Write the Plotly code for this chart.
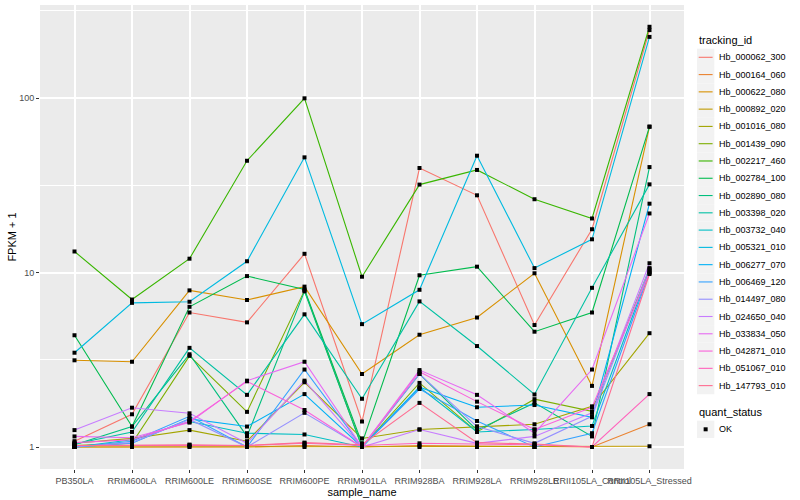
import plotly.graph_objects as go

samples = ["PB350LA", "RRIM600LA", "RRIM600LE", "RRIM600SE", "RRIM600PE", "RRIM901LA",
           "RRIM928BA", "RRIM928LA", "RRIM928LE", "RRII105LA_Control", "RRII105LA_Stressed"]

tracking_ids = ["Hb_000062_300", "Hb_000164_060", "Hb_000622_080", "Hb_000892_020", "Hb_001016_080",
                "Hb_001439_090", "Hb_002217_460", "Hb_002784_100", "Hb_002890_080", "Hb_003398_020",
                "Hb_003732_040", "Hb_005321_010", "Hb_006277_070", "Hb_006469_120", "Hb_014497_080",
                "Hb_024650_040", "Hb_033834_050", "Hb_042871_010", "Hb_051067_010", "Hb_147793_010"]

colors = ["#F8766D", "#EA8331", "#D89000", "#C09B00", "#A3A500", "#7CAE00", "#39B600", "#00BB4E",
          "#00BF7D", "#00C1A3", "#00BFC4", "#00BAE0", "#00B0F6", "#35A2FF", "#9590FF", "#C77CFF",
          "#E76BF3", "#FA62DB", "#FF62BC", "#FF6C91"]

quant_status = ["OK"]

hb_000062_300 = [1.08, 1.54, 5.9, 5.18, 12.8, 1.40, 39.7, 27.7, 5.0, 17.7, 245]
hb_000164_060 = [1.0, 1.0, 1.01, 1.0, 1.02, 1.0, 1.02, 1.01, 1.0, 1.0, 1.35]
hb_000622_080 = [3.14, 3.08, 7.9, 6.96, 8.3, 2.62, 4.40, 5.52, 9.9, 2.24, 68.5]
hb_000892_020 = [1.0, 1.0, 1.0, 1.0, 1.0, 1.0, 1.0, 1.0, 1.0, 1.0, 1.01]
hb_001016_080 = [1.05, 1.12, 1.25, 1.08, 2.35, 1.12, 1.26, 1.31, 1.35, 1.71, 4.49]
hb_001439_090 = [1.02, 1.05, 3.33, 1.59, 7.9, 1.0, 2.33, 1.22, 1.88, 1.60, 10.5]
hb_002217_460 = [13.2, 7.0, 12.0, 43.7, 99.6, 9.46, 31.9, 38.7, 26.3, 20.4, 256]
hb_002784_100 = [4.37, 1.31, 6.36, 9.54, 8.0, 1.05, 9.64, 10.8, 4.58, 5.9, 68.5]
hb_002890_080 = [1.03, 1.31, 3.4, 1.15, 7.8, 1.0, 2.62, 1.25, 1.79, 1.15, 40.2]
hb_003398_020 = [1.04, 1.22, 3.70, 1.99, 5.76, 1.89, 6.83, 3.79, 2.0, 8.17, 32.0]
hb_003732_040 = [1.0, 1.1, 1.40, 1.2, 1.18, 1.0, 2.2, 1.22, 1.26, 1.32, 10.3]
hb_005321_010 = [3.47, 6.7, 6.8, 11.6, 45.7, 5.06, 7.96, 46.7, 10.6, 15.5, 224]
hb_006277_070 = [1.0, 1.05, 1.45, 1.31, 2.01, 1.0, 2.2, 1.69, 1.74, 1.48, 24.8]
hb_006469_120 = [1.0, 1.08, 1.5, 1.0, 2.78, 1.0, 2.15, 1.41, 1.0, 1.2, 10.0]
hb_014497_080 = [1.0, 1.06, 1.44, 1.0, 1.57, 1.0, 2.62, 1.31, 1.05, 1.50, 10.6]
hb_024650_040 = [1.25, 1.68, 1.56, 1.05, 2.4, 1.0, 1.26, 1.05, 1.15, 1.57, 11.3]
hb_033834_050 = [1.15, 1.13, 1.38, 2.4, 3.08, 1.0, 2.76, 1.99, 1.2, 2.78, 21.8]
hb_042871_010 = [1.06, 1.1, 1.40, 2.38, 1.63, 1.0, 2.70, 1.82, 1.26, 1.69, 10.0]
hb_051067_010 = [1.02, 1.02, 1.03, 1.02, 1.05, 1.02, 1.05, 1.04, 1.03, 1.0, 2.01]
hb_147793_010 = [1.02, 1.03, 1.03, 1.02, 1.06, 1.03, 1.79, 1.06, 1.04, 1.0, 9.8]

series_values = [hb_000062_300, hb_000164_060, hb_000622_080, hb_000892_020, hb_001016_080,
                 hb_001439_090, hb_002217_460, hb_002784_100, hb_002890_080, hb_003398_020,
                 hb_003732_040, hb_005321_010, hb_006277_070, hb_006469_120, hb_014497_080,
                 hb_024650_040, hb_033834_050, hb_042871_010, hb_051067_010, hb_147793_010]

W, H = 800, 500
ML, MR, MT, MB = 40, 116, 5, 31
PW, PH = W - ML - MR, H - MT - MB

fig = go.Figure()
for tid, col, vals in zip(tracking_ids, colors, series_values):
    fig.add_trace(go.Scatter(x=samples, y=vals, mode="lines", name=tid,
                             line=dict(color=col, width=1.1), showlegend=False))

all_x, all_y = [], []
for vals in series_values:
    all_x.extend(samples)
    all_y.extend(vals)
fig.add_trace(go.Scatter(x=all_x, y=all_y, mode="markers", name=quant_status[0],
                         marker=dict(color="black", symbol="square", size=4),
                         showlegend=False))


# ---- ggplot-style legend, laid out in pixel units converted to paper coords ----
def px(x):
    return (x - ML) / PW


def py(y):
    return (H - MB - y) / PH


shapes, annotations = [], []
key_left, key_w, row_h = 697, 17.3, 17.28
first_row = 57.3
annotations.append(dict(text="tracking_id", x=px(key_left), y=py(40.5), xref="paper", yref="paper",
                        xanchor="left", yanchor="middle", showarrow=False,
                        font=dict(size=11, color="black")))
for i, (tid, col) in enumerate(zip(tracking_ids, colors)):
    cy = first_row + i * row_h
    shapes.append(dict(type="rect", xref="paper", yref="paper",
                       x0=px(key_left), x1=px(key_left + key_w),
                       y0=py(cy - row_h / 2), y1=py(cy + row_h / 2),
                       fillcolor="#F2F2F2", line=dict(width=0), layer="above"))
    shapes.append(dict(type="line", xref="paper", yref="paper",
                       x0=px(key_left + 1.7), x1=px(key_left + key_w - 1.7),
                       y0=py(cy), y1=py(cy), line=dict(color=col, width=1.1), layer="above"))
    annotations.append(dict(text=tid, x=px(key_left + key_w + 2.5), y=py(cy), xref="paper", yref="paper",
                            xanchor="left", yanchor="middle", showarrow=False,
                            font=dict(size=9, color="black")))

qs_title_y = 412
annotations.append(dict(text="quant_status", x=px(key_left), y=py(qs_title_y), xref="paper", yref="paper",
                        xanchor="left", yanchor="middle", showarrow=False,
                        font=dict(size=11, color="black")))
for j, status in enumerate(quant_status):
    cy = 429.3 + j * row_h
    shapes.append(dict(type="rect", xref="paper", yref="paper",
                       x0=px(key_left), x1=px(key_left + key_w),
                       y0=py(cy - row_h / 2), y1=py(cy + row_h / 2),
                       fillcolor="#F2F2F2", line=dict(width=0), layer="above"))
    shapes.append(dict(type="rect", xref="paper", yref="paper",
                       x0=px(key_left + key_w / 2 - 2), x1=px(key_left + key_w / 2 + 2),
                       y0=py(cy - 2), y1=py(cy + 2),
                       fillcolor="black", line=dict(width=0), layer="above"))
    annotations.append(dict(text=status, x=px(key_left + key_w + 2.5), y=py(cy), xref="paper", yref="paper",
                            xanchor="left", yanchor="middle", showarrow=False,
                            font=dict(size=9, color="black")))

fig.update_layout(
    width=W, height=H,
    margin=dict(l=ML, r=MR, t=MT, b=MB),
    paper_bgcolor="white", plot_bgcolor="#EBEBEB",
    font=dict(family="Liberation Sans, Arial, sans-serif", size=9, color="black"),
    showlegend=False,
    shapes=shapes, annotations=annotations,
    xaxis=dict(type="category", categoryorder="array", categoryarray=samples,
               range=[-0.6, 10.6], showgrid=True, gridcolor="white", gridwidth=1.5,
               zeroline=False, ticks="outside", ticklen=3, tickcolor="#333333",
               tickangle=0, tickfont=dict(size=9, color="#4D4D4D"),
               title=dict(text="sample_name", font=dict(size=11), standoff=0),
               automargin=False),
    yaxis=dict(type="log", range=[-0.126, 2.533],
               tickvals=[1, 10, 100], ticktext=["1", "10", "100"],
               showgrid=True, gridcolor="white", gridwidth=1.5, zeroline=False,
               ticks="outside", ticklen=3, tickcolor="#333333",
               tickfont=dict(size=9, color="#4D4D4D"),
               minor=dict(tickvals=[10 ** -0.5, 10 ** 0.5, 10 ** 1.5, 10 ** 2.5],
                          showgrid=True, gridcolor="white", gridwidth=0.7, ticks=""),
               title=dict(text="FPKM + 1", font=dict(size=11), standoff=0),
               automargin=False),
)

fig.write_html("out.html", config={"displayModeBar": False},
               post_script="document.body.style.margin='0';")
